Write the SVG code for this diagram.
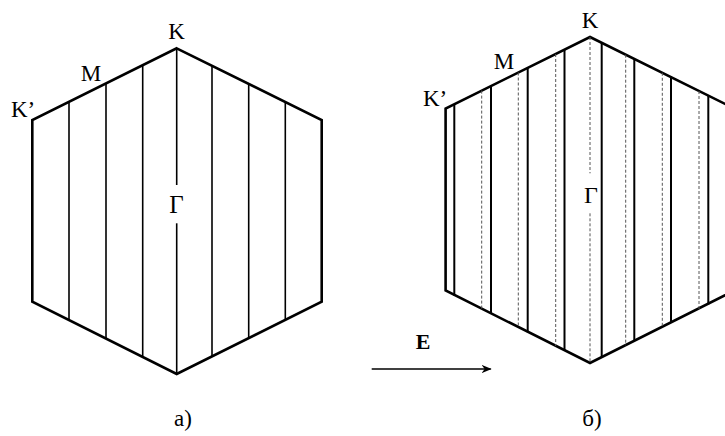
<svg xmlns="http://www.w3.org/2000/svg" width="725" height="436" viewBox="0 0 725 436">
<style>
.outline{fill:none;stroke:#000;stroke-width:2.6;stroke-linejoin:miter}
.ln{stroke:#000;stroke-width:1.6;fill:none}
.lnb{stroke:#000;stroke-width:2;fill:none}
.dash{stroke:#555;stroke-width:1;stroke-dasharray:3 2;fill:none}
</style>
<defs>
<marker id="ah" viewBox="0 0 10 10" refX="9" refY="5" markerWidth="10" markerHeight="10" markerUnits="userSpaceOnUse" orient="auto">
<path d="M0,1 L10,5 L0,9 L3,5 Z" fill="#000"/>
</marker>
</defs>
<rect width="725" height="436" fill="#fff"/>

<g id="hex-a">
<polygon class="outline" points="176.7,48.3 321.7,120 321.7,301.7 176.7,374 32.3,301.7 32.3,120"/>
<g id="lines-a">
<line class="ln" x1="69" y1="101.8" x2="69" y2="320.5"/>
<line class="ln" x1="106" y1="83.4" x2="106" y2="338.9"/>
<line class="ln" x1="142.7" y1="65.2" x2="142.7" y2="357.1"/>
<line class="ln" x1="176.7" y1="48.3" x2="176.7" y2="185"/>
<line class="ln" x1="176.7" y1="223.3" x2="176.7" y2="374"/>
<line class="ln" x1="212" y1="65.8" x2="212" y2="356.5"/>
<line class="ln" x1="248.7" y1="84" x2="248.7" y2="338.3"/>
<line class="ln" x1="285.3" y1="102.2" x2="285.3" y2="320.1"/>
</g>
<g id="labels-a" font-family="Liberation Serif, Times New Roman, serif" font-size="23" fill="#000" text-anchor="middle">
<text x="176.5" y="39.3">K</text>
<text x="91" y="81">M</text>
<text x="11" y="117.3" text-anchor="start">K’</text>
<text x="176.5" y="213" font-size="25">Γ</text>
<text x="183" y="425.5">a)</text>
</g>
</g>

<g id="hex-b">
<polygon class="outline" points="590,37 734.4,108.5 734.4,290.5 590,363 445.6,290.5 445.6,108.5"/>
<g id="dashed-b">
<line class="dash" x1="481.7" y1="90.6" x2="481.7" y2="309.4"/>
<line class="dash" x1="518.3" y1="72.5" x2="518.3" y2="327.5"/>
<line class="dash" x1="555.7" y1="54" x2="555.7" y2="346"/>
<line class="dash" x1="590" y1="37" x2="590" y2="173.3"/>
<line class="dash" x1="590" y1="213.3" x2="590" y2="363"/>
<line class="dash" x1="625.7" y1="54.7" x2="625.7" y2="345.3"/>
<line class="dash" x1="662.3" y1="72.8" x2="662.3" y2="327.2"/>
<line class="dash" x1="699" y1="91" x2="699" y2="309"/>
</g>
<g id="solid-b">
<line class="lnb" x1="454.3" y1="104.2" x2="454.3" y2="295.8"/>
<line class="lnb" x1="491" y1="86" x2="491" y2="314"/>
<line class="lnb" x1="527.7" y1="67.8" x2="527.7" y2="332.2"/>
<line class="lnb" x1="564.5" y1="49.6" x2="564.5" y2="350.4"/>
<line class="lnb" x1="601.7" y1="42.8" x2="601.7" y2="357.2"/>
<line class="lnb" x1="634.3" y1="58.9" x2="634.3" y2="341.1"/>
<line class="lnb" x1="671" y1="77.1" x2="671" y2="322.9"/>
<line class="lnb" x1="708.3" y1="95.6" x2="708.3" y2="304.4"/>
</g>
<g id="labels-b" font-family="Liberation Serif, Times New Roman, serif" font-size="23" fill="#000" text-anchor="middle">
<text x="590" y="28.3">K</text>
<text x="504" y="69.3">M</text>
<text x="423" y="106" text-anchor="start">K’</text>
<text x="591" y="203" font-size="24">Γ</text>
<text x="592" y="425.5">б)</text>
</g>
</g>

<g id="field-E">
<line x1="371.7" y1="369" x2="490.7" y2="369" stroke="#000" stroke-width="1.6" marker-end="url(#ah)"/>
<text x="423" y="349.3" font-family="Liberation Serif, Times New Roman, serif" font-size="22" font-weight="bold" text-anchor="middle">E</text>
</g>
</svg>
